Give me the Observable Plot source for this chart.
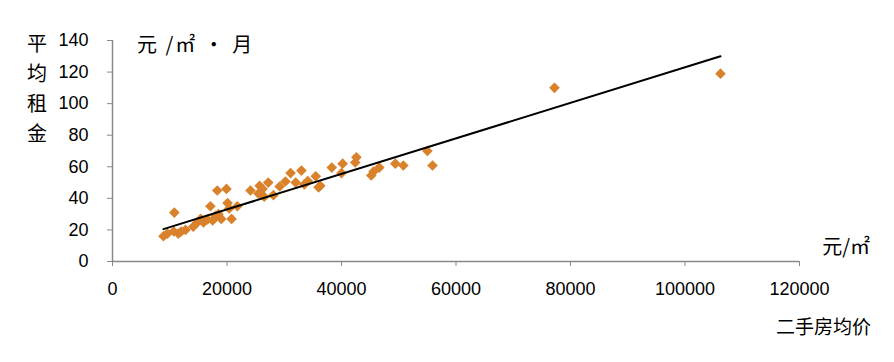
<!DOCTYPE html>
<html><head><meta charset="utf-8">
<script src="https://cdn.jsdelivr.net/npm/d3@7"></script>
<script src="https://cdn.jsdelivr.net/npm/@observablehq/plot@0.6"></script>
<style>body{margin:0;background:#fff}#chart{position:relative;width:894px;height:362px}</style>
</head><body><div id="chart"></div>
<script>
const priceX = [8900,9600,10700,10800,11500,12000,12750,14100,14800,15400,15900,16600,17100,17500,18000,18300,18500,19000,19900,20100,20400,20800,21800,24100,25500,25700,26200,26500,27200,28100,29200,30200,31100,32000,33000,33500,34100,35500,36000,36300,38300,40000,40200,42400,42600,45200,45600,46600,49400,50800,55000,55900,77200,106200];
const rentY = [16,17.7,19,31,17.7,19,20,22,24.7,27,24.7,26.6,35,26,29,45,30,27,46,37,33.6,27,35,45,43,48,46,41,50,42,47.5,50.7,56,50,57.6,48.8,51,54,47,48,59.5,56,62,62.7,66,54.5,57,59.5,62,60.8,70,60.8,110,119];
const trendX = [8900,106200];
const trendY = [20.5,130];
const xTicks = [0,20000,40000,60000,80000,100000,120000];
const yTicks = [0,20,40,60,80,100,120,140];
const yLabelChars = ["平","均","租","金"];

const pts = priceX.map((x,i)=>({x, y: rentY[i]}));
const trend = trendX.map((x,i)=>({x, y: trendY[i]}));

const cjk = '"Noto Sans CJK SC", sans-serif';
const plot = Plot.plot({
  width: 894, height: 362,
  marginLeft: 112, marginRight: 95, marginTop: 40, marginBottom: 101,
  style: {fontFamily: '"Liberation Sans", Arial, sans-serif', fontSize: "18px", color: "#000", background: "#fff"},
  x: {domain: [0,120000]},
  y: {domain: [0,140]},
  marks: [
    Plot.axisY({ticks: yTicks, tickSize: 5, tickPadding: 19, stroke: "#888", fill: "#000", label: null, tickFormat: d => String(d), fontSize: 18}),
    Plot.axisX({ticks: xTicks, tickSize: 5, tickPadding: 16, stroke: "#888", fill: "#000", label: null, tickFormat: d => String(d), fontSize: 18}),
    Plot.ruleX([0], {stroke: "#888", strokeWidth: 1.5}),
    Plot.ruleY([0], {stroke: "#888", strokeWidth: 1.5}),
    Plot.dot(pts, {x: "x", y: "y", symbol: "diamond2", r: 4.8, fill: "#D9822B", stroke: "none"}),
    Plot.line(trend, {x: "x", y: "y", stroke: "#000", strokeWidth: 2})
  ]
});
document.getElementById("chart").appendChild(plot);
const svg = d3.select(plot);
const g = svg.append("g").attr("font-family", cjk).attr("fill", "#000").attr("text-anchor", "start");
yLabelChars.forEach((c,i)=>{
  g.append("text").attr("x", 37).attr("y", 44 + i*30).attr("dy", "0.35em").attr("text-anchor","middle").attr("font-size", 20).text(c);
});
g.append("text").attr("x", 137).attr("y", 45).attr("dy","0.35em").attr("font-size", 20).attr("letter-spacing", 2).style("white-space","pre").text("元 /㎡ • 月");
g.append("text").attr("x", 870).attr("y", 247).attr("dy","0.35em").attr("text-anchor","end").attr("font-size", 20).text("元/㎡");
g.append("text").attr("x", 871).attr("y", 327).attr("dy","0.35em").attr("text-anchor","end").attr("font-size", 19).text("二手房均价");
</script></body></html>
